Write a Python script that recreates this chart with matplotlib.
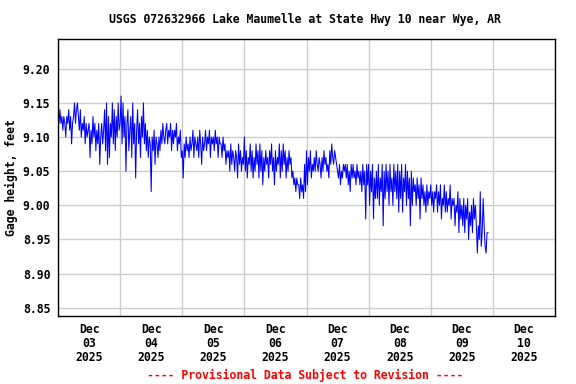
import numpy as np
import pandas as pd
import matplotlib
matplotlib.use('Agg')
import matplotlib.pyplot as plt

dec03 = [13, 12, 14, 12, 13, 11, 13, 12, 10, 13, 12, 14, 11, 13, 9, 12,
         13, 15, 12, 14, 15, 13, 11, 14, 10, 12, 11, 13, 9, 12, 10, 11,
         12, 7, 11, 9, 13, 10, 12, 8, 11, 9, 12, 6, 10, 12, 9, 11,
         14, 8, 15, 6, 13, 7, 12, 10, 15, 9, 14, 8, 13, 10, 15, 11]
dec04 = [12, 16, 9, 15, 10, 13, 5, 12, 14, 8, 11, 13, 7, 15, 9, 12,
         4, 11, 14, 9, 12, 7, 13, 10, 15, 9, 12, 8, 11, 7, 10, 9,
         2, 10, 8, 11, 6, 10, 9, 7, 10, 8, 11, 9, 12, 10, 9, 11,
         12, 9, 11, 10, 12, 8, 11, 9, 11, 10, 12, 8, 10, 9, 11, 7]
dec05 = [8, 4, 9, 7, 10, 8, 9, 7, 10, 8, 9, 11, 7, 10, 9, 8,
         10, 7, 11, 9, 6, 10, 8, 9, 11, 8, 10, 9, 11, 7, 10, 9,
         10, 8, 11, 9, 10, 7, 10, 9, 9, 7, 10, 8, 9, 6, 8, 7,
         8, 5, 9, 6, 8, 7, 5, 8, 7, 4, 9, 6, 8, 5, 7, 6]
dec06 = [10, 5, 8, 4, 7, 6, 9, 5, 8, 4, 7, 5, 9, 6, 8, 4,
         9, 5, 8, 3, 7, 5, 8, 6, 7, 4, 8, 6, 9, 5, 7, 3,
         8, 5, 7, 6, 9, 4, 8, 5, 9, 6, 8, 4, 7, 5, 8, 6,
         7, 4, 5, 3, 4, 2, 4, 3, 3, 1, 4, 2, 3, 1, 6, 2]
dec07 = [8, 3, 7, 5, 8, 4, 6, 5, 7, 5, 8, 6, 5, 7, 6, 4,
         7, 5, 8, 6, 7, 5, 6, 4, 8, 6, 9, 7, 6, 8, 7, 6,
         5, 4, 6, 3, 5, 4, 6, 5, 6, 4, 6, 3, 5, 2, 6, 4,
         6, 4, 5, 3, 6, 4, 5, 3, 5, 2, 6, 3, 5, -2, 6, 3]
dec08 = [6, 0, 5, 2, 6, -2, 4, 1, 5, 1, 6, 0, 4, 2, 6, -3,
         5, 1, 6, 2, 5, 0, 6, 2, 4, 0, 6, 2, 5, 1, 6, -1,
         5, 1, 6, -1, 4, 2, 6, 0, 5, 1, 4, -3, 5, 0, 4, 2,
         3, 0, 4, 1, 3, -2, 4, 1, 3, 0, 2, -1, 3, 0, 2, 1]
dec09 = [3, 0, 2, -1, 2, 1, 3, -1, 2, 0, 3, -2, 1, 0, 3, -1,
         2, -1, 1, 0, 3, -2, 1, 0, 1, -3, 0, -1, 2, -4, 1, -2,
         0, -3, 1, -4, 0, -2, 1, -5, -1, -3, 0, -4, 1, -2, 0, -3,
         -7, -3, -5, 2, -6, -4, 1, -3, -6, -7, -4, -4]

day_labels = ['Dec\n03\n2025', 'Dec\n04\n2025', 'Dec\n05\n2025', 'Dec\n06\n2025',
              'Dec\n07\n2025', 'Dec\n08\n2025', 'Dec\n09\n2025', 'Dec\n10\n2025']
y_ticks = [8.85, 8.90, 8.95, 9.00, 9.05, 9.10, 9.15, 9.20]

series = dec03 + dec04 + dec05 + dec06 + dec07 + dec08 + dec09
gage = 9.0 + np.array(series) / 100.0
times = pd.date_range('2025-12-03 00:00', periods=len(gage), freq='1350s')

plt.rcParams['font.family'] = ['DejaVu Sans Mono']
plt.rcParams['font.weight'] = 'bold'
fs = 8.3

fig = plt.figure(figsize=(5.76, 3.84), dpi=100)
ax = fig.add_axes([58 / 576, 1 - 316 / 384, 497 / 576, 277 / 384])
ax.plot(times, gage, color='#0000ff', lw=0.75)

start = pd.Timestamp('2025-12-03')
ax.set_xlim(start, start + pd.Timedelta(days=8))
ax.set_ylim(8.838, 9.2435)

days = pd.date_range(start, periods=9, freq='D')
noons = pd.date_range(start + pd.Timedelta(hours=12), periods=8, freq='D')
ax.set_xticks(days)
ax.set_xticklabels([])
ax.set_xticks(noons, minor=True)
ax.set_xticklabels(day_labels, minor=True, fontsize=fs, fontweight='bold', linespacing=1.12)
ax.tick_params(axis='x', which='both', length=0, pad=5)

ax.set_yticks(y_ticks)
ax.set_yticklabels(['%.2f' % v for v in y_ticks], fontsize=fs, fontweight='bold')
ax.tick_params(axis='y', length=0, pad=5.5)

ax.grid(True, which='major', color='#cccccc', lw=1)
ax.set_axisbelow(True)
for s in ax.spines.values():
    s.set_linewidth(1)
    s.set_color('black')

ax.set_ylabel('Gage height, feet', fontsize=fs, fontweight='bold', va='center')
ax.yaxis.set_label_coords(-0.093, 0.5)
fig.text(305 / 576, 1 - 20 / 384, 'USGS 072632966 Lake Maumelle at State Hwy 10 near Wye, AR',
         ha='center', va='center', fontsize=fs, fontweight='bold')
fig.text(305 / 576, 1 - 375 / 384, '---- Provisional Data Subject to Revision ----',
         ha='center', va='center', fontsize=fs, fontweight='bold', color='red')

fig.savefig('out.png', dpi=100)
